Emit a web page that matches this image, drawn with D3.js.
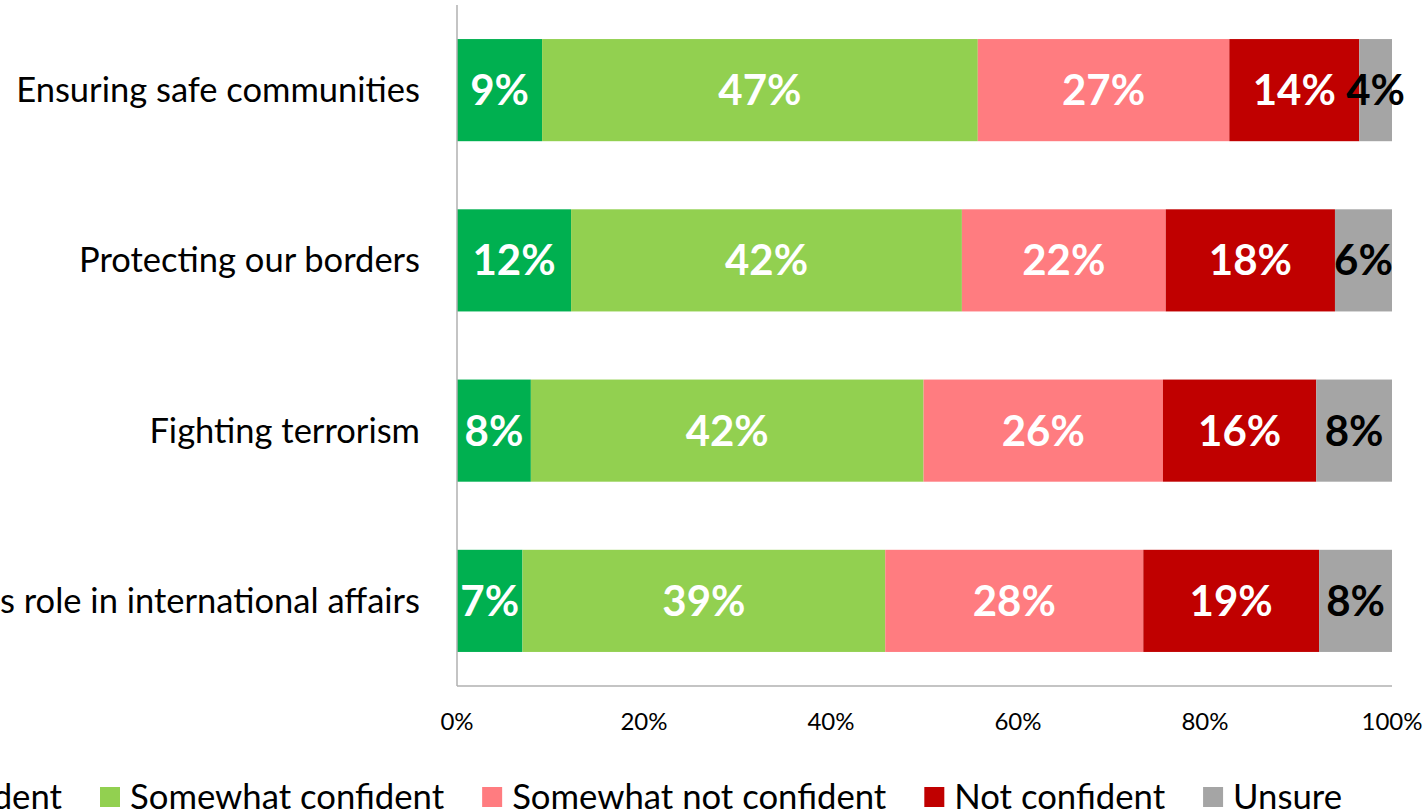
<!DOCTYPE html>
<html><head><meta charset="utf-8">
<script src="https://cdn.jsdelivr.net/npm/d3@7"></script>
<style>body{margin:0;background:#fff;overflow:hidden}svg{display:block}text{font-family:Lato,"Open Sans",sans-serif}</style>
</head><body>
<script>
const categories = ["Ensuring safe communities","Protecting our borders","Fighting terrorism","Canada's role in international affairs"];
const seriesNames = ["Very confident","Somewhat confident","Somewhat not confident","Not confident","Unsure"];
const veryConfident = [9.1, 12.2, 7.9, 7.0];
const somewhatConfident = [46.6, 41.8, 42.0, 38.8];
const somewhatNotConfident = [26.9, 21.8, 25.6, 27.6];
const notConfident = [13.9, 18.1, 16.4, 18.8];
const unsure = [3.5, 6.1, 8.1, 7.8];
const tickValues = [0, 0.2, 0.4, 0.6, 0.8, 1.0];
const colors = ["#00B050","#92D050","#FF7C80","#C00000","#A5A5A5"];
const labelColors = ["#fff","#fff","#fff","#fff","#000"];

const W = 1427, H = 812;
const m = {left: 457, right: 35, top: 5, bottom: 126};
const svg = d3.select("body").append("svg").attr("width", W).attr("height", H);

const table = categories.map((c, i) => ({
  cat: c,
  [seriesNames[0]]: veryConfident[i],
  [seriesNames[1]]: somewhatConfident[i],
  [seriesNames[2]]: somewhatNotConfident[i],
  [seriesNames[3]]: notConfident[i],
  [seriesNames[4]]: unsure[i]
}));
const stack = d3.stack().keys(seriesNames).offset(d3.stackOffsetExpand)(table);

const x = d3.scaleLinear().domain([0, 1]).range([m.left, W - m.right]);
const y = d3.scaleBand().domain(categories).range([m.top, H - m.bottom]).paddingInner(0.4).paddingOuter(0.2);

// bars
const layers = svg.append("g").selectAll("g").data(stack).join("g").attr("fill", (d, i) => colors[i]);
layers.selectAll("rect").data(d => d).join("rect")
  .attr("x", d => x(d[0])).attr("width", d => x(d[1]) - x(d[0]))
  .attr("y", d => y(d.data.cat)).attr("height", y.bandwidth());

// labels
stack.forEach((layer, si) => {
  svg.append("g").selectAll("text").data(layer).join("text")
    .attr("x", d => (x(d[0]) + x(d[1])) / 2)
    .attr("y", d => y(d.data.cat) + y.bandwidth() / 2)
    .attr("dy", "0.36em")
    .attr("text-anchor", "middle")
    .attr("font-weight", "bold")
    .attr("font-size", 42)
    .attr("fill", labelColors[si])
    .text(d => Math.round(d.data[layer.key]) + "%");
});

// axes lines
svg.append("line").attr("x1", m.left).attr("x2", m.left).attr("y1", m.top).attr("y2", H - m.bottom)
  .attr("stroke", "#b0b0b0").attr("stroke-width", 1.5);
svg.append("line").attr("x1", m.left).attr("x2", x(1)).attr("y1", H - m.bottom).attr("y2", H - m.bottom)
  .attr("stroke", "#b0b0b0").attr("stroke-width", 1.5);

// x tick labels
svg.append("g").selectAll("text").data(tickValues).join("text")
  .attr("x", d => x(d)).attr("y", H - m.bottom + 44)
  .attr("text-anchor", "middle").attr("font-size", 24).attr("fill", "#000")
  .text(d3.format(".0%"));

// category labels
svg.append("g").selectAll("text").data(categories).join("text")
  .attr("x", 420).attr("y", d => y(d) + y.bandwidth() / 2).attr("dy", "0.35em")
  .attr("text-anchor", "end").attr("font-size", 34.5).attr("fill", "#000")
  .text(d => d);

// legend
const lg = svg.append("g");
const items = lg.selectAll("g").data(seriesNames).join("g");
items.append("rect").attr("width", 20).attr("height", 20).attr("y", 787).attr("fill", (d, i) => colors[i]);
items.append("text").attr("x", 30).attr("y", 797).attr("dy", "0.35em").attr("font-size", 34.7).attr("fill", "#000").text(d => d);
const widths = [];
items.each(function() { widths.push(this.querySelector("text").getComputedTextLength()); });
const gap = 38;
let pos = [0];
for (let i = 1; i < widths.length; i++) pos.push(pos[i - 1] + 30 + widths[i - 1] + gap);
const shift = 100 - pos[1];
items.attr("transform", (d, i) => `translate(${pos[i] + shift},0)`);
</script>
</body></html>
